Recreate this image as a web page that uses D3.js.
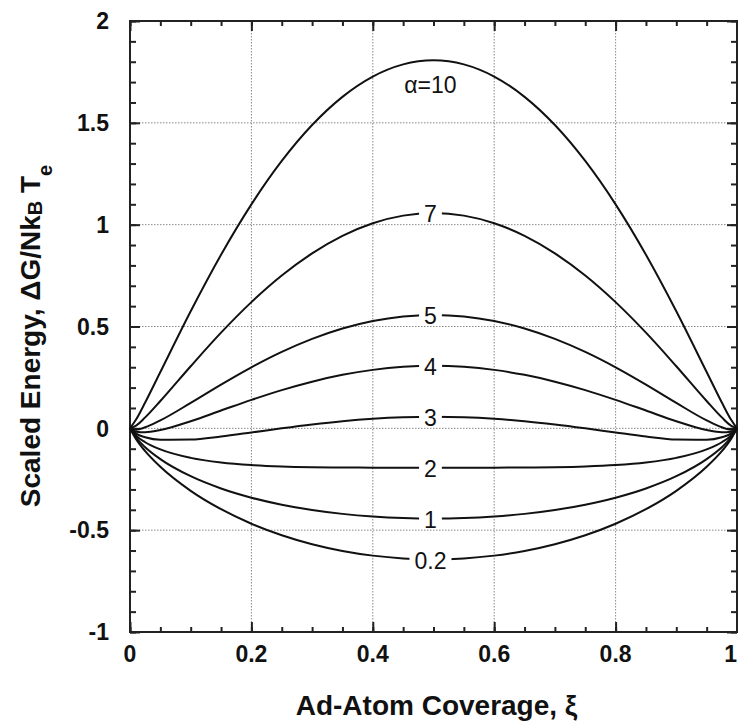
<!DOCTYPE html>
<html>
<head>
<meta charset="utf-8">
<script src="https://cdn.jsdelivr.net/npm/d3@7"></script>
<style>
  html, body { margin: 0; padding: 0; background: #fff; }
  svg { display: block; }
</style>
</head>
<body>
<svg id="chart" width="738" height="723"></svg>
<script>
// ---- data ----
const xi = [0, 0.01, 0.025, 0.05, 0.1, 0.15, 0.2, 0.25, 0.3, 0.35, 0.4, 0.45, 0.5,
            0.55, 0.6, 0.65, 0.7, 0.75, 0.8, 0.85, 0.9, 0.95, 0.975, 0.99, 1];

const alphaValues = [0.2, 1, 2, 3, 4, 5, 7, 10];
const curveLabels = ["0.2", "1", "2", "3", "4", "5", "7", "α=10"];

const energyA02 = [0, -0.0540, -0.1120, -0.1890, -0.3071, -0.3972, -0.4684, -0.5248, -0.5689, -0.6020, -0.6250, -0.6386, -0.6431,
                   -0.6386, -0.6250, -0.6020, -0.5689, -0.5248, -0.4684, -0.3972, -0.3071, -0.1890, -0.1120, -0.0540, 0];
const energyA1  = [0, -0.0461, -0.0925, -0.1510, -0.2351, -0.2952, -0.3404, -0.3748, -0.4009, -0.4200, -0.4330, -0.4406, -0.4431,
                   -0.4406, -0.4330, -0.4200, -0.4009, -0.3748, -0.3404, -0.2952, -0.2351, -0.1510, -0.0925, -0.0461, 0];
const energyA2  = [0, -0.0362, -0.0682, -0.1035, -0.1451, -0.1677, -0.1804, -0.1873, -0.1909, -0.1925, -0.1930, -0.1931, -0.1931,
                   -0.1931, -0.1930, -0.1925, -0.1909, -0.1873, -0.1804, -0.1677, -0.1451, -0.1035, -0.0682, -0.0362, 0];
const energyA3  = [0, -0.0263, -0.0438, -0.0560, -0.0551, -0.0402, -0.0204, 0.0002, 0.0191, 0.0351, 0.0470, 0.0544, 0.0569,
                   0.0544, 0.0470, 0.0351, 0.0191, 0.0002, -0.0204, -0.0402, -0.0551, -0.0560, -0.0438, -0.0263, 0];
const energyA4  = [0, -0.0164, -0.0194, -0.0085, 0.0349, 0.0873, 0.1396, 0.1877, 0.2291, 0.2626, 0.2870, 0.3019, 0.3069,
                   0.3019, 0.2870, 0.2626, 0.2291, 0.1877, 0.1396, 0.0873, 0.0349, -0.0085, -0.0194, -0.0164, 0];
const energyA5  = [0, -0.0065, 0.0050, 0.0390, 0.1249, 0.2148, 0.2996, 0.3752, 0.4391, 0.4901, 0.5270, 0.5494, 0.5569,
                   0.5494, 0.5270, 0.4901, 0.4391, 0.3752, 0.2996, 0.2148, 0.1249, 0.0390, 0.0050, -0.0065, 0];
const energyA7  = [0, 0.0133, 0.0537, 0.1340, 0.3049, 0.4698, 0.6196, 0.7502, 0.8591, 0.9451, 1.0070, 1.0444, 1.0569,
                   1.0444, 1.0070, 0.9451, 0.8591, 0.7502, 0.6196, 0.4698, 0.3049, 0.1340, 0.0537, 0.0133, 0];
const energyA10 = [0, 0.0430, 0.1268, 0.2765, 0.5749, 0.8523, 1.0996, 1.3127, 1.4891, 1.6276, 1.7270, 1.7869, 1.8069,
                   1.7869, 1.7270, 1.6276, 1.4891, 1.3127, 1.0996, 0.8523, 0.5749, 0.2765, 0.1268, 0.0430, 0];

const seriesValues = [energyA02, energyA1, energyA2, energyA3, energyA4, energyA5, energyA7, energyA10];

const xTickValues = [0, 0.2, 0.4, 0.6, 0.8, 1];
const xTickLabels = ["0", "0.2", "0.4", "0.6", "0.8", "1"];
const yTickValues = [-1, -0.5, 0, 0.5, 1, 1.5, 2];
const yTickLabels = ["-1", "-0.5", "0", "0.5", "1", "1.5", "2"];
const labelXi = 0.495;

// ---- layout ----
const W = 738;
const L = 130, R = 737, T = 21, B = 632;
const svg = d3.select("#chart");
const x = d3.scaleLinear().domain([0, 1]).range([L, R]);
const y = d3.scaleLinear().domain([-1, 2]).range([B, T]);

const FONT = "'Liberation Sans', Arial, Helvetica, sans-serif";

// grid lines
const grid = svg.append("g").attr("stroke", "#8a8a8a").attr("stroke-width", 1)
  .attr("stroke-dasharray", "1.5,1.5").attr("fill", "none");
grid.selectAll("line.gx").data(xTickValues.slice(1, -1)).join("line")
  .attr("x1", d => x(d)).attr("x2", d => x(d)).attr("y1", T).attr("y2", B);
grid.selectAll("line.gy").data(yTickValues.slice(1, -1)).join("line")
  .attr("x1", L).attr("x2", R).attr("y1", d => y(d)).attr("y2", d => y(d));

// ticks (inward, all four sides) via d3 axes
const xMinor = d3.range(0, 1.0001, 0.05);
const yMinor = d3.range(-1, 2.0001, 0.1);

function styleAxis(g) {
  g.select(".domain").remove();
  g.selectAll(".tick line").attr("stroke", "#222").attr("stroke-width", 2);
  g.selectAll(".tick text").remove();
}
svg.append("g").attr("transform", `translate(0,${B})`)
  .call(d3.axisBottom(x).tickValues(xMinor).tickSize(-5)).call(styleAxis);
svg.append("g").attr("transform", `translate(0,${B})`)
  .call(d3.axisBottom(x).tickValues(xTickValues).tickSize(-10)).call(styleAxis);
svg.append("g").attr("transform", `translate(0,${T})`)
  .call(d3.axisTop(x).tickValues(xMinor).tickSize(-5)).call(styleAxis);
svg.append("g").attr("transform", `translate(0,${T})`)
  .call(d3.axisTop(x).tickValues(xTickValues).tickSize(-10)).call(styleAxis);
svg.append("g").attr("transform", `translate(${L},0)`)
  .call(d3.axisLeft(y).tickValues(yMinor).tickSize(-6)).call(styleAxis);
svg.append("g").attr("transform", `translate(${L},0)`)
  .call(d3.axisLeft(y).tickValues(yTickValues).tickSize(-10)).call(styleAxis);
svg.append("g").attr("transform", `translate(${R},0)`)
  .call(d3.axisRight(y).tickValues(yMinor).tickSize(-6)).call(styleAxis);
svg.append("g").attr("transform", `translate(${R},0)`)
  .call(d3.axisRight(y).tickValues(yTickValues).tickSize(-10)).call(styleAxis);

// frame
svg.append("rect").attr("x", L).attr("y", T).attr("width", R - L).attr("height", B - T)
  .attr("fill", "none").attr("stroke", "#222").attr("stroke-width", 2);

// tick labels
svg.append("g").selectAll("text").data(xTickValues).join("text")
  .attr("x", d => Math.min(x(d), W - 1)).attr("y", 662)
  .attr("text-anchor", d => x(d) + 8 > W ? "end" : "middle")
  .attr("font-family", FONT).attr("font-size", 23).attr("font-weight", "bold").attr("fill", "#111")
  .text((d, i) => xTickLabels[i]);
svg.append("g").selectAll("text").data(yTickValues).join("text")
  .attr("x", 109).attr("y", d => y(d)).attr("dy", "0.36em")
  .attr("text-anchor", "end")
  .attr("font-family", FONT).attr("font-size", 23).attr("font-weight", "bold").attr("fill", "#111")
  .text((d, i) => yTickLabels[i]);

// curves
const line = d3.line().x(d => x(d[0])).y(d => y(d[1])).curve(d3.curveMonotoneX);
svg.append("g").selectAll("path").data(seriesValues).join("path")
  .attr("d", vals => line(xi.map((v, i) => [v, vals[i]])))
  .attr("fill", "none").attr("stroke", "#111").attr("stroke-width", 2);

// curve labels (inline, with white break)
const mid = xi.indexOf(0.5);
const labG = svg.append("g");
seriesValues.forEach((vals, i) => {
  const isTop = i === seriesValues.length - 1;
  const cx = x(labelXi);
  const cy = y(vals[mid]) + (isTop ? 24 : 1);
  const g = labG.append("g");
  const t = g.append("text")
    .attr("x", cx).attr("y", cy).attr("dy", "0.36em")
    .attr("text-anchor", "middle")
    .attr("font-family", FONT).attr("font-size", 23).attr("fill", "#111")
    .text(curveLabels[i]);
  const bb = t.node().getBBox();
  g.insert("rect", "text")
    .attr("x", bb.x - 5).attr("y", cy - 9).attr("width", bb.width + 10).attr("height", 18)
    .attr("fill", "#fff");
});

// axis titles
svg.append("text")
  .attr("x", (L + R) / 2 + 3).attr("y", 715)
  .attr("text-anchor", "middle")
  .attr("font-family", FONT).attr("font-size", 28).attr("font-weight", "bold").attr("fill", "#111")
  .text("Ad-Atom Coverage, ξ");

const yt = svg.append("text")
  .attr("transform", "translate(40,336) rotate(-90)")
  .attr("text-anchor", "middle")
  .attr("font-family", FONT).attr("font-size", 28).attr("font-weight", "bold").attr("fill", "#111");
yt.append("tspan").text("Scaled Energy, ΔG/Nk");
yt.append("tspan").attr("font-size", 20).attr("dy", 2).text("B");
yt.append("tspan").attr("dy", -2).text(" T");
yt.append("tspan").attr("font-size", 20).attr("dy", 12).text("e");
</script>
</body>
</html>
